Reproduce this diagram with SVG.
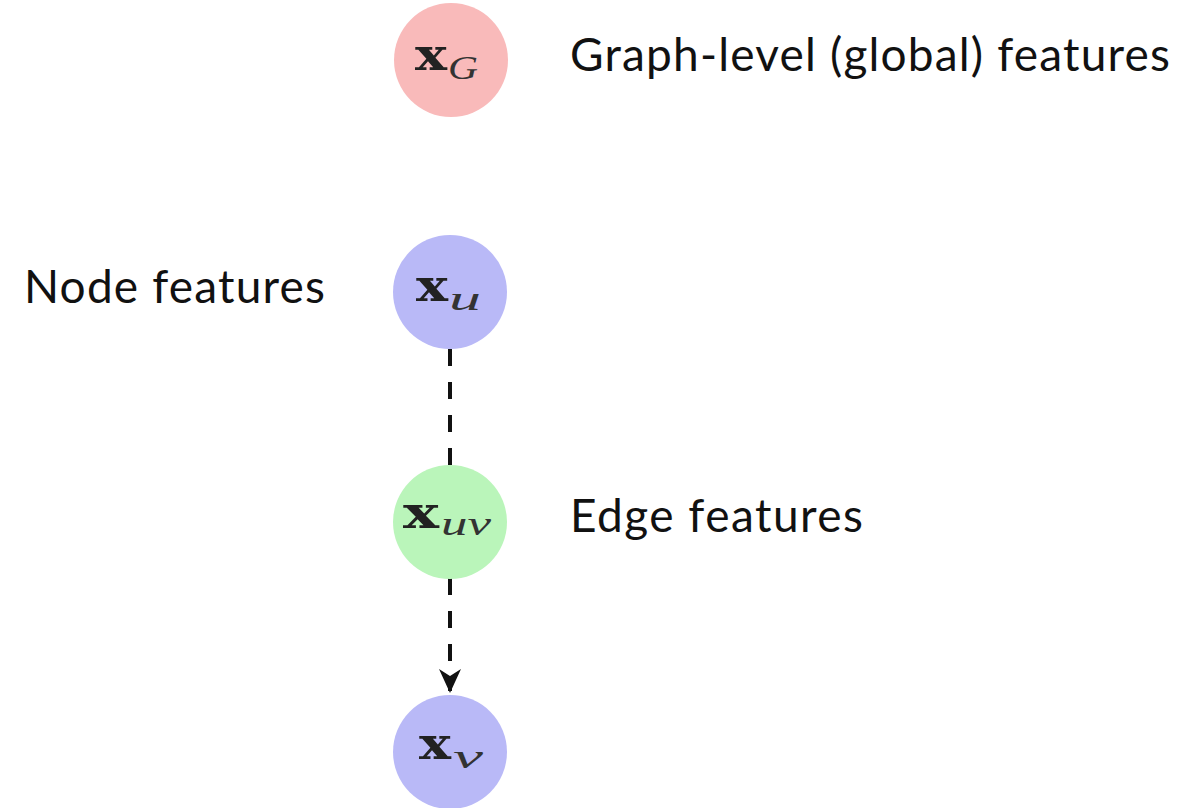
<svg xmlns="http://www.w3.org/2000/svg" width="1184" height="808" viewBox="0 0 1184 808">
<defs>
<style>
.lbl{font-family:Lato,"Open Sans",sans-serif;font-size:46px;fill:#111}
.mx{font-family:"DejaVu Serif","Liberation Serif",serif;font-weight:bold;font-size:44px;fill:#222}
.sub{font-family:"Liberation Serif","DejaVu Serif",serif;font-style:italic;font-size:34px;fill:#333}
.edge{stroke:#111;stroke-width:4;stroke-dasharray:17,16;fill:none}
</style>
<marker id="arr" viewBox="0 0 24 22" refX="22" refY="11" markerWidth="24" markerHeight="22" orient="auto" markerUnits="userSpaceOnUse">
<path d="M0,0 L24,11 L0,22 L7,11 Z" fill="#111"/>
</marker>
</defs>
<rect width="1184" height="808" fill="#fff"/>
<g id="connectors">
<line class="edge" x1="450" y1="349" x2="450" y2="466"/>
<line class="edge" x1="450" y1="578" x2="450" y2="691" marker-end="url(#arr)"/>
</g>
<g id="node-g">
<circle cx="451" cy="60" r="57" fill="#f9baba"/>
<text x="415" y="70" class="mx" textLength="32" lengthAdjust="spacingAndGlyphs">x</text><text x="448" y="79" class="sub" textLength="30" lengthAdjust="spacingAndGlyphs">G</text>
</g>
<g id="node-u">
<circle cx="450" cy="292" r="57" fill="#b9b9f7"/>
<text x="416" y="301" class="mx" textLength="32" lengthAdjust="spacingAndGlyphs">x</text><text x="449" y="310" class="sub" textLength="32" lengthAdjust="spacingAndGlyphs">u</text>
</g>
<g id="node-uv">
<circle cx="450" cy="522" r="57" fill="#baf5ba"/>
<text x="403" y="528" class="mx" textLength="36" lengthAdjust="spacingAndGlyphs">x</text><text x="441" y="535" class="sub" textLength="50" lengthAdjust="spacingAndGlyphs">uv</text>
</g>
<g id="node-v">
<circle cx="450" cy="752" r="57" fill="#b9b9f7"/>
<text x="419" y="759" class="mx" textLength="32" lengthAdjust="spacingAndGlyphs">x</text><text x="453" y="768" class="sub" textLength="30" lengthAdjust="spacingAndGlyphs">v</text>
</g>
<text x="570" y="71" class="lbl" textLength="600" lengthAdjust="spacing">Graph-level (global) features</text>
<text x="24" y="303" class="lbl" textLength="301" lengthAdjust="spacing">Node features</text>
<text x="570" y="532" class="lbl" textLength="293" lengthAdjust="spacing">Edge features</text>
</svg>
